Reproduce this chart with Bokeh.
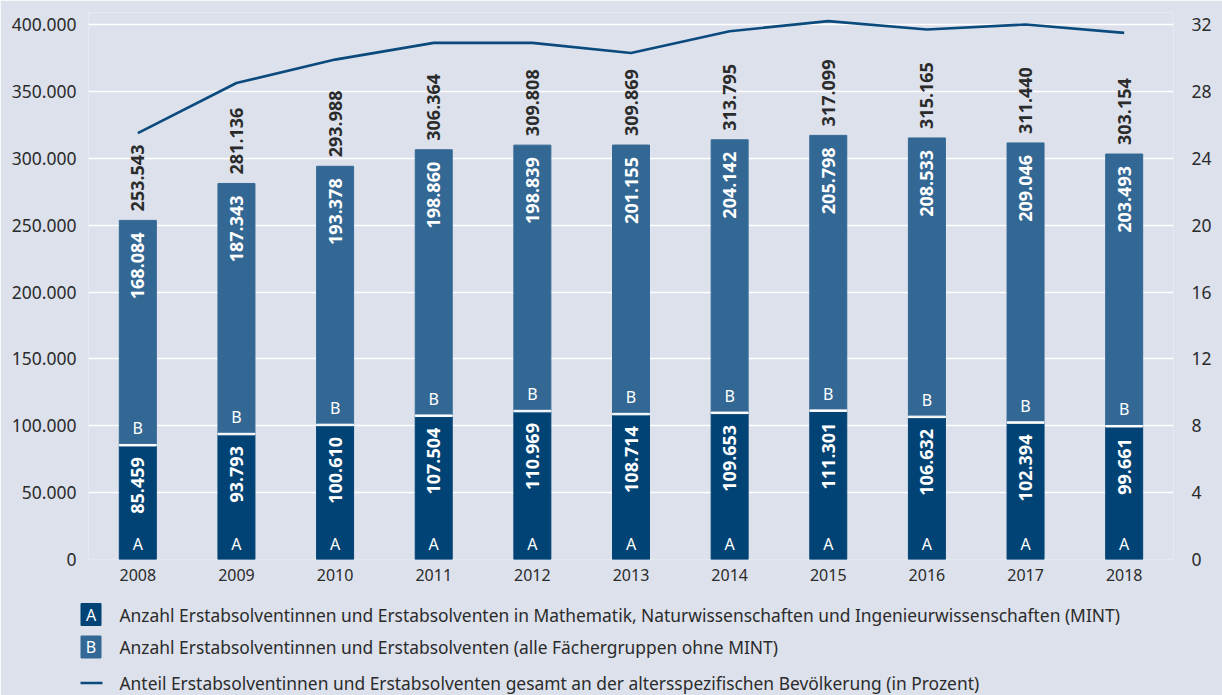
import math
from bokeh.plotting import figure
from bokeh.models import (ColumnDataSource, Range1d, LinearAxis, FixedTicker,
                          CustomJSTickFormatter)
from bokeh.core.properties import value
from bokeh.embed import file_html
from bokeh.resources import INLINE

years = [2008, 2009, 2010, 2011, 2012, 2013, 2014, 2015, 2016, 2017, 2018]
mint = [85459, 93793, 100610, 107504, 110969, 108714, 109653, 111301, 106632, 102394, 99661]
other = [168084, 187343, 193378, 198860, 198839, 201155, 204142, 205798, 208533, 209046, 203493]
total = [253543, 281136, 293988, 306364, 309808, 309869, 313795, 317099, 315165, 311440, 303154]
share = [25.5, 28.5, 29.9, 30.9, 30.9, 30.3, 31.6, 32.2, 31.7, 32.0, 31.5]
left_ticks = [0, 50000, 100000, 150000, 200000, 250000, 300000, 350000, 400000]
right_ticks = [0, 4, 8, 12, 16, 20, 24, 28, 32]
legend_texts = [
    "Anzahl Erstabsolventinnen und Erstabsolventen in Mathematik, Naturwissenschaften und Ingenieurwissenschaften (MINT)",
    "Anzahl Erstabsolventinnen und Erstabsolventen (alle Fächergruppen ohne MINT)",
    "Anteil Erstabsolventinnen und Erstabsolventen gesamt an der altersspezifischen Bevölkerung (in Prozent)",
]

def fmt(v):
    return f"{v:,}".replace(",", ".")

BG = "#dce1ec"
DARK = "#004374"
LIGHT = "#336895"
LINE = "#0b4a7d"
TXT = "#2b2b2b"
FONT = "Noto Sans"

src = ColumnDataSource(dict(
    year=years, mint=mint, other=other, total=total, share=share,
    zero=[0] * len(years),
    mint_lbl=[fmt(v) for v in mint], other_lbl=[fmt(v) for v in other],
    total_lbl=[fmt(v) for v in total],
    a=["A"] * len(years), b=["B"] * len(years),
))

# frame: x 88..1173, y 12..559 (screen)
FL, FR, FT, FB = 88, 1173, 12, 559
top_scale = (FB - FT) / (FB - 24)
p = figure(width=1222, height=695, x_range=Range1d(years[0] - 0.5, years[-1] + 0.5),
           y_range=Range1d(0, 400000 * top_scale), output_backend="svg",
           toolbar_location=None, min_border_left=FL, min_border_right=1222 - FR,
           min_border_top=FT, min_border_bottom=695 - FB)
p.extra_y_ranges = {"pct": Range1d(0, 32 * top_scale), "ly": Range1d(FB, FT)}
p.extra_x_ranges = {"lx": Range1d(FL, FR)}
p.background_fill_color = BG
p.border_fill_color = BG
p.outline_line_color = None
p.xgrid.grid_line_color = None
p.ygrid.grid_line_color = "white"
p.ygrid.grid_line_width = 1.5
p.ygrid.ticker = FixedTicker(ticks=left_ticks)

p.xaxis.ticker = FixedTicker(ticks=years)
p.xaxis.formatter = CustomJSTickFormatter(code="return tick.toFixed(0);")
p.yaxis.ticker = FixedTicker(ticks=left_ticks)
p.yaxis.formatter = CustomJSTickFormatter(code="return tick.toFixed(0).replace(/\\B(?=(\\d{3})+(?!\\d))/g, '.');")

ra = LinearAxis(y_range_name="pct", ticker=FixedTicker(ticks=right_ticks))
p.add_layout(ra, "right")

for ax in [p.xaxis[0], p.yaxis[0], ra]:
    ax.axis_line_color = None
    ax.major_tick_line_color = None
    ax.minor_tick_line_color = None
    ax.major_tick_out = 0
    ax.major_tick_in = 0
    ax.major_label_text_font = FONT
    ax.major_label_text_font_size = "17.5px"
    ax.major_label_text_color = TXT
p.xaxis[0].major_label_text_font_size = "16px"
p.yaxis[0].major_label_standoff = 12
ra.major_label_standoff = 18
p.xaxis[0].major_label_standoff = 9

W = 0.375
p.vbar(x="year", bottom="zero", top="mint", width=W, color=DARK, source=src)
p.vbar(x="year", bottom="mint", top="total", width=W, color=LIGHT, source=src)
p.rect(x="year", y="mint", width=W, height=1.5, height_units="screen", color="white", source=src)

p.line(x="year", y="share", y_range_name="pct", line_color=LINE, line_width=2.6, source=src)

num_font = dict(text_font=value(FONT), text_font_style="bold", text_font_size="18px",
                angle=math.pi / 2, text_baseline="middle")
p.text(x="year", y="total", text="total_lbl", text_align="left", y_offset=-9,
       text_color=TXT, source=src, **num_font)
p.text(x="year", y="total", text="other_lbl", text_align="right", y_offset=12,
       text_color="white", source=src, **num_font)
p.text(x="year", y="mint", text="mint_lbl", text_align="right", y_offset=12,
       text_color="white", source=src, **num_font)
letter_font = dict(text_font=value(FONT), text_font_size="16px", text_align="center",
                   text_baseline="middle", text_color="white")
p.text(x="year", y="zero", text="a", y_offset=-16, source=src, **letter_font)
p.text(x="year", y="mint", text="b", y_offset=-17, source=src, **letter_font)

# legend (drawn below the frame, screen-pixel ranges, unclipped overlay level)
row_y = [614, 646.5, 682.5]
lg = dict(x_range_name="lx", y_range_name="ly", level="overlay")
p.rect(x=[90.5, 90.5], y=row_y[:2], width=20, height=22, color=[DARK, LIGHT], **lg)
p.text(x=[90.5, 90.5], y=row_y[:2], text=["A", "B"], **letter_font, **lg)
p.segment(x0=[80], y0=[row_y[2]], x1=[102], y1=[row_y[2]], line_color=LINE, line_width=2.5, **lg)
p.text(x=[119] * 3, y=row_y, text=legend_texts, text_font=value(FONT), text_font_size="17.4px",
       text_align="left", text_baseline="middle", text_color=TXT, **lg)

open("out.html", "w").write(file_html(p, INLINE))
